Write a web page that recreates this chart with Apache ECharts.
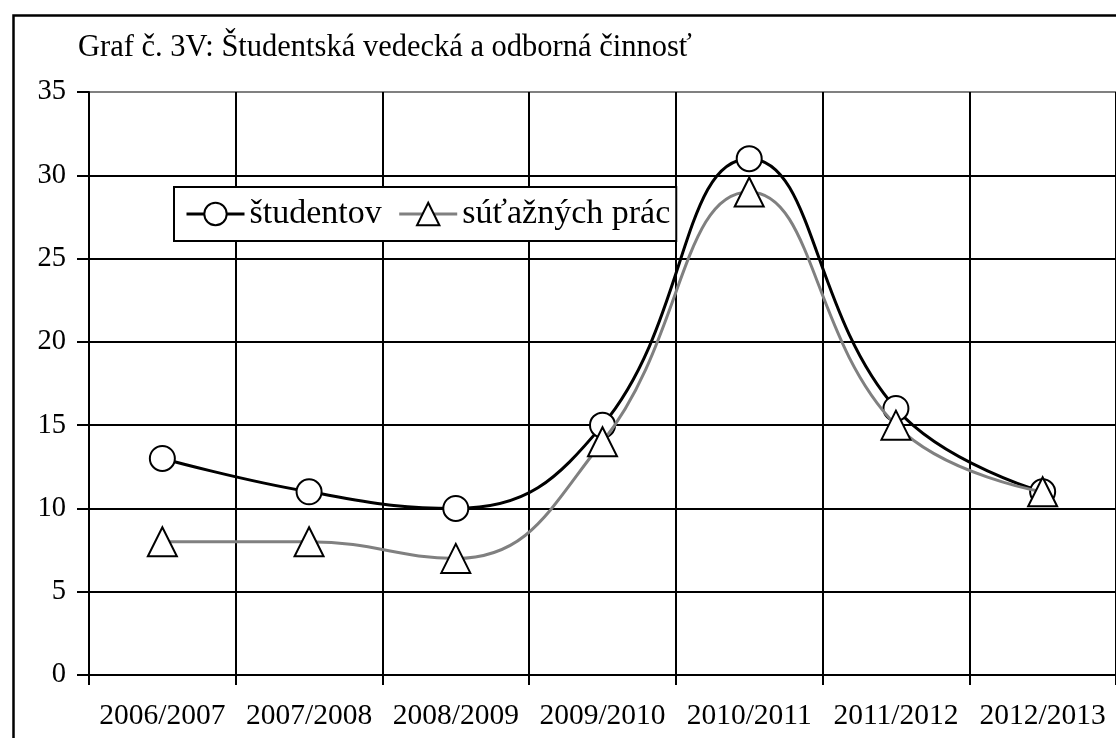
<!DOCTYPE html>
<html>
<head>
<meta charset="utf-8">
<script src="https://cdn.jsdelivr.net/npm/echarts@6/dist/echarts.min.js"></script>
<style>
html,body{margin:0;padding:0;background:#fff;}
#chart{width:1116px;height:738px;}
</style>
</head>
<body>
<div id="chart"></div>
<script>
const titleText = 'Graf č. 3V: Študentská vedecká a odborná činnosť';
const categories = ['2006/2007','2007/2008','2008/2009','2009/2010','2010/2011','2011/2012','2012/2013'];
const studentov = [13, 11, 10, 15, 31, 16, 11];
const prac = [8, 8, 7, 14, 29, 15, 11];
const seriesNames = ['študentov', 'súťažných prác'];
const yMin = 0, yMax = 35, yStep = 5;

const FONT = '"Liberation Serif", "Times New Roman", serif';
const chart = echarts.init(document.getElementById('chart'), null, {renderer: 'canvas'});
chart.setOption({
  animation: false,
  backgroundColor: '#fff',
  textStyle: {fontFamily: FONT, color: '#000'},
  title: {
    text: titleText, left: 73, top: 27,
    textStyle: {fontFamily: FONT, fontSize: 30.5, fontWeight: 'normal', color: '#000'}
  },
  graphic: [{
    type: 'rect', left: 11, top: 13, silent: true,
    shape: {x: 0, y: 0, width: 1120, height: 740},
    style: {fill: 'none', stroke: '#000', lineWidth: 2.5}
  }],
  legend: {
    left: 174, top: 187,
    orient: 'horizontal',
    backgroundColor: '#fff',
    borderColor: '#000', borderWidth: 2,
    padding: [10, 6, 10, 11],
    itemGap: 16,
    itemWidth: 58, itemHeight: 28,
    lineStyle: {width: 3},
    textStyle: {fontFamily: FONT, fontSize: 34, color: '#000'},
    data: seriesNames
  },
  grid: {left: 89, right: 0, top: 92, bottom: 63, containLabel: false},
  xAxis: {
    type: 'category', data: categories, boundaryGap: true,
    axisLine: {show: true, lineStyle: {color: '#000', width: 2}},
    axisTick: {show: true, length: 10, inside: false, lineStyle: {color: '#000', width: 2}},
    axisLabel: {fontFamily: FONT, fontSize: 29.5, color: '#000', margin: 26, interval: 0},
    splitLine: {show: true, lineStyle: {color: '#000', width: 2}}
  },
  yAxis: {
    type: 'value', min: yMin, max: yMax, interval: yStep,
    axisLine: {show: true, lineStyle: {color: '#000', width: 2}},
    axisTick: {show: true, length: 12, lineStyle: {color: '#000', width: 2}},
    axisLabel: {fontFamily: FONT, fontSize: 28.5, color: '#000', margin: 23},
    splitLine: {show: true, lineStyle: {color: ['#000','#000','#000','#000','#000','#000','#000','#808080'], width: 2}}
  },
  series: [{
    name: seriesNames[0], type: 'line', data: studentov, smooth: 0.45,
    symbol: 'circle', symbolSize: 25, showAllSymbol: true, z: 3,
    lineStyle: {color: '#000', width: 3},
    itemStyle: {color: '#fff', borderColor: '#000', borderWidth: 2}
  }, {
    name: seriesNames[1], type: 'line', data: prac, smooth: 0.45,
    symbol: 'triangle', symbolSize: 29, showAllSymbol: true, z: 4,
    lineStyle: {color: '#808080', width: 3},
    itemStyle: {color: '#fff', borderColor: '#000', borderWidth: 2}
  }]
});
</script>
</body>
</html>
